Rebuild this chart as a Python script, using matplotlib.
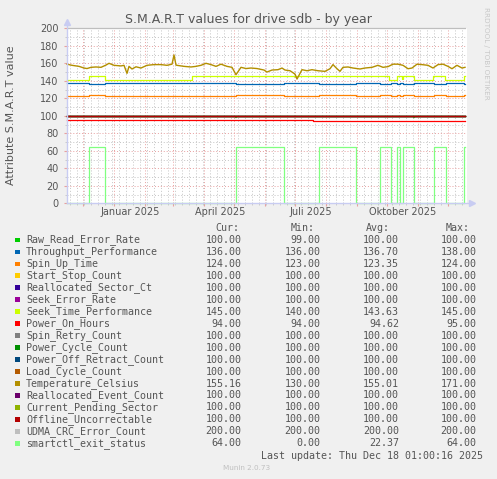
import matplotlib
matplotlib.use("Agg")
import matplotlib.pyplot as plt
import matplotlib.dates as mdates
from matplotlib.patches import Rectangle
from datetime import datetime

W, H = 497, 479

# graph window: 400 days, data stops at the last rrd update
start = datetime(2024, 11, 14, 16, 0)
span_days = 400

names = ["Raw_Read_Error_Rate", "Throughput_Performance", "Spin_Up_Time",
         "Start_Stop_Count", "Reallocated_Sector_Ct", "Seek_Error_Rate",
         "Seek_Time_Performance", "Power_On_Hours", "Spin_Retry_Count",
         "Power_Cycle_Count", "Power_Off_Retract_Count", "Load_Cycle_Count",
         "Temperature_Celsius", "Reallocated_Event_Count", "Current_Pending_Sector",
         "Offline_Uncorrectable", "UDMA_CRC_Error_Count", "smartctl_exit_status"]
colors = ["#00CC00", "#0066B3", "#FF8000", "#FFCC00", "#330099", "#990099",
          "#CCFF00", "#FF0000", "#808080", "#008F00", "#00487D", "#B35A00",
          "#B38F00", "#6B006B", "#8FB300", "#B30000", "#BEBEBE", "#80FF80"]
cur = [100.00, 136.00, 124.00, 100.00, 100.00, 100.00, 145.00, 94.00, 100.00,
       100.00, 100.00, 100.00, 155.16, 100.00, 100.00, 100.00, 200.00, 64.00]
mins = [99.00, 136.00, 123.00, 100.00, 100.00, 100.00, 140.00, 94.00, 100.00,
        100.00, 100.00, 100.00, 130.00, 100.00, 100.00, 100.00, 200.00, 0.00]
avgs = [100.00, 136.70, 123.35, 100.00, 100.00, 100.00, 143.63, 94.62, 100.00,
        100.00, 100.00, 100.00, 155.01, 100.00, 100.00, 100.00, 200.00, 22.37]
maxs = [100.00, 138.00, 124.00, 100.00, 100.00, 100.00, 145.00, 95.00, 100.00,
        100.00, 100.00, 100.00, 171.00, 100.00, 100.00, 100.00, 200.00, 64.00]

# step series (day offsets from start)
seg_days = [0, 22, 38, 169, 217, 252, 289, 313, 324, 330, 333, 336, 347, 367, 379, 397, 398]
exit_status = [0, 64, 0, 64, 0, 64, 0, 64, 0, 64, 0, 64, 0, 64, 0, 64, 64]
throughput = [137, 136, 137, 136, 137, 136, 137, 136, 137, 136, 137, 136, 137, 136, 138, 136, 136]
spin_up = [123, 124, 123, 124, 123, 124, 123, 124, 123, 124, 123, 124, 123, 124, 123, 124, 124]

seek_days = [0, 22, 38, 125, 322, 330, 335, 336, 347, 366, 378, 397, 398]
seek_time = [141, 145, 141, 145, 141, 145, 142, 145, 141, 145, 141, 145, 145]

poh_days = [0, 246, 398]
power_on = [95, 94, 94]

rre_days = [0, 168, 169, 346, 347, 398]
raw_read = [100, 99, 100, 99, 100, 100]

const_days = [0, 398]

temp_days = [0, 5, 12, 17, 20, 24, 29, 34, 39, 42, 47, 54, 57, 60, 62, 65, 69, 74,
             80, 87, 94, 100, 105, 107, 109, 110, 117, 124, 129, 134, 139, 144, 149,
             154, 160, 165, 169, 174, 179, 184, 190, 197, 200, 205, 211, 215, 218,
             223, 228, 230, 235, 240, 245, 251, 258, 263, 266, 270, 273, 276, 281,
             286, 293, 298, 305, 311, 316, 321, 326, 331, 336, 341, 345, 350, 355,
             361, 366, 371, 376, 381, 385, 390, 395, 398]
temp_vals = [159, 157.7, 156.5, 154.6, 154, 155.4, 155.8, 155.4, 158, 160, 157.7,
             157, 157.7, 148.5, 156.5, 153.5, 156, 154.6, 157.7, 158.5, 158.5, 157.7,
             159, 169.5, 158, 157.7, 156.5, 155.8, 156.5, 157.7, 160, 158.5, 156.5,
             159, 156.5, 155.4, 147, 155.4, 154, 154.6, 154, 152.3, 150, 152.3, 152.7,
             154.6, 152.3, 151.5, 147.7, 142, 152.7, 151.5, 152.7, 151.5, 150.8, 153.8,
             158.5, 153.8, 150.8, 155.4, 155.8, 154.6, 153.5, 154.6, 155.4, 157.7,
             155.4, 156.2, 159, 159, 157.7, 153.8, 154.6, 159, 158.5, 157.7, 154.6,
             158.5, 159, 156.5, 153.8, 157.7, 154.6, 155.4]

series = {
    "Raw_Read_Error_Rate": (rre_days, raw_read, True),
    "Throughput_Performance": (seg_days, throughput, True),
    "Spin_Up_Time": (seg_days, spin_up, True),
    "Seek_Time_Performance": (seek_days, seek_time, True),
    "Power_On_Hours": (poh_days, power_on, True),
    "Temperature_Celsius": (temp_days, temp_vals, False),
    "UDMA_CRC_Error_Count": (const_days, [200, 200], True),
    "smartctl_exit_status": (seg_days, exit_status, True),
}

t0 = mdates.date2num(start)

fig = plt.figure(figsize=(W / 100, H / 100), dpi=100, facecolor="#F0F0F0")
ax = fig.add_axes([67 / W, (H - 203.3) / H, 400 / W, 175 / H])
ax.set_facecolor("white")
ax.set_xlim(t0, t0 + span_days)
ax.set_ylim(0, 200)

for name, col in zip(names, colors):
    if name in series:
        d, v, step = series[name]
    else:
        d, v, step = const_days, [100, 100], True
    xs = [t0 + x for x in d]
    ax.plot(xs, v, color=col, lw=0.9 if step else 1.0,
            drawstyle="steps-post" if step else "default",
            clip_on=False, zorder=3)

# grid
grey = "#C4C4C4"
red = "#E8A0A0"
dots = (0, (1, 2))
ax.xaxis.set_major_locator(mdates.MonthLocator())
ax.xaxis.set_minor_locator(mdates.WeekdayLocator(byweekday=mdates.MO))
ax.set_yticks(range(0, 201, 20))
ax.set_yticks(range(10, 200, 20), minor=True)
ax.grid(which="minor", color=grey, linestyle=dots, lw=0.7, zorder=1)
ax.grid(which="major", color=red, linestyle=dots, lw=0.7, zorder=2)
ax.set_axisbelow(True)
ax.xaxis.set_major_formatter(plt.NullFormatter())
ax.tick_params(which="major", length=2, color=red, labelsize=7, labelcolor="#555555", pad=3)
ax.tick_params(which="minor", length=1.5, color=grey)
ax.tick_params(axis="y", which="major", pad=4)

for side in ["top", "right", "left", "bottom"]:
    ax.spines[side].set_visible(False)

axis_col = "#C8CCF2"
ax.plot([0, 0], [0, 1.035], color=axis_col, lw=1, transform=ax.transAxes, clip_on=False, zorder=4)
ax.plot([0, 1.012], [0, 0], color=axis_col, lw=1, transform=ax.transAxes, clip_on=False, zorder=4)
ax.plot([0], [1.035], marker="^", ms=4, color=axis_col, transform=ax.transAxes, clip_on=False, zorder=4)
ax.plot([1.012], [0], marker=">", ms=4, color=axis_col, transform=ax.transAxes, clip_on=False, zorder=4)

# month labels, centred mid-month
for y, m, lab in [(2025, 1, "Januar 2025"), (2025, 4, "April 2025"),
                  (2025, 7, "Juli 2025"), (2025, 10, "Oktober 2025")]:
    xm = mdates.date2num(datetime(y, m, 1)) + 15.5
    ax.text(xm, -0.048, lab, transform=ax.get_xaxis_transform(),
            ha="center", va="center", fontsize=7, color="#555555")

fig.text(11 / W, 1 - 115 / H, "Attribute S.M.A.R.T value", rotation=90,
         ha="center", va="center", fontsize=8, color="#555555")
fig.text(248 / W, 1 - 19 / H, "S.M.A.R.T values for drive sdb - by year",
         ha="center", va="center", fontsize=9, color="#555555")
fig.text(486 / W, 1 - 53 / H, "RRDTOOL / TOBI OETIKER", rotation=-90,
         ha="center", va="center", fontsize=5.2, color="#C8C8C8")


def fx(x):
    return x / W


def fy(y):
    return 1 - y / H


mono = "DejaVu Sans Mono"
fs = 7.2
txt = "#555555"
col_right = [241.7, 320.7, 399.0, 476.7]
head_right = [239.3, 315.0, 390.0, 469.3]
for hx, lab in zip(head_right, ["Cur:", "Min:", "Avg:", "Max:"]):
    fig.text(fx(hx), fy(227.7), lab, family=mono, fontsize=fs, color=txt, ha="right", va="center")

for i, (name, col) in enumerate(zip(names, colors)):
    yy = 240 + 11.96 * i
    fig.add_artist(Rectangle((fx(14.8), fy(yy + 2.4)), 4.8 / W, 4.8 / H,
                             transform=fig.transFigure, facecolor=col, edgecolor="none"))
    fig.text(fx(26), fy(yy), name, family=mono, fontsize=fs, color=txt, ha="left", va="center")
    for cx, val in zip(col_right, [cur[i], mins[i], avgs[i], maxs[i]]):
        fig.text(fx(cx), fy(yy), "%.2f" % val, family=mono, fontsize=fs, color=txt,
                 ha="right", va="center")

fig.text(fx(482.7), fy(455.7), "Last update: Thu Dec 18 01:00:16 2025", family=mono,
         fontsize=fs, color=txt, ha="right", va="center")
fig.text(fx(223), fy(467.7), "Munin 2.0.73", fontsize=5.2, color="#C0C0C0",
         ha="left", va="center")

fig.savefig("out.png", dpi=100, facecolor=fig.get_facecolor())
